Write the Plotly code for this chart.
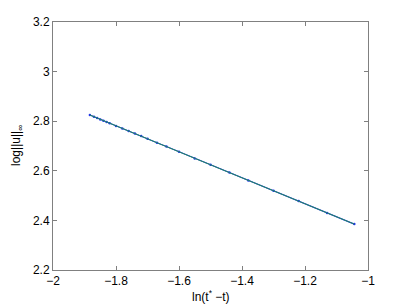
import plotly.graph_objects as go

# data points (blue)
x_data = [-1.883, -1.87, -1.86, -1.85, -1.84, -1.83, -1.82, -1.80, -1.78, -1.76,
          -1.74, -1.72, -1.70, -1.67, -1.64, -1.60, -1.55, -1.50, -1.44, -1.38,
          -1.30, -1.22, -1.13, -1.0435]
y_data = [2.825, 2.818, 2.813, 2.807, 2.802, 2.797, 2.792, 2.781, 2.771, 2.760,
          2.750, 2.740, 2.729, 2.713, 2.698, 2.677, 2.650, 2.624, 2.593, 2.561,
          2.520, 2.478, 2.430, 2.385]

# fitted line (green)
x_fit = [-1.883, -1.0435]
y_fit = [2.825, 2.385]

x_ticks = [-2, -1.8, -1.6, -1.4, -1.2, -1]
x_ticklabels = ["\u22122", "\u22121.8", "\u22121.6", "\u22121.4", "\u22121.2", "\u22121"]
y_ticks = [2.2, 2.4, 2.6, 2.8, 3, 3.2]
y_ticklabels = ["2.2", "2.4", "2.6", "2.8", "3", "3.2"]

FONT = "Liberation Sans, Arial"

fig = go.Figure()
fig.add_trace(go.Scatter(x=x_data, y=y_data, mode="lines+markers",
                         line=dict(color="#2233ee", width=1.2),
                         marker=dict(color="#2233ee", size=2.5, symbol="circle")))
fig.add_trace(go.Scatter(x=x_fit, y=y_fit, mode="lines",
                         line=dict(color="#228b5a", width=1)))

axis_common = dict(showgrid=False, zeroline=False, showline=True, mirror="ticks",
                   linecolor="#808080", linewidth=1, ticks="inside", ticklen=4,
                   tickcolor="#808080", automargin=False,
                   tickfont=dict(family=FONT, size=12, color="black"))

fig.update_xaxes(range=[-2, -1], tickvals=x_ticks, ticktext=x_ticklabels, **axis_common)
fig.update_yaxes(range=[2.2, 3.2], tickvals=y_ticks, ticktext=y_ticklabels, **axis_common)

fig.add_annotation(text="ln(t<sup>*</sup> \u2212t)", xref="paper", yref="paper",
                   x=0.5, y=0, yshift=-26, xanchor="center", yanchor="middle",
                   showarrow=False, font=dict(family=FONT, size=12, color="black"))
fig.add_annotation(text="log||u||<sub>\u221e</sub>", xref="paper", yref="paper",
                   x=0, y=0.5, xshift=-36, xanchor="center", yanchor="middle",
                   textangle=-90, showarrow=False,
                   font=dict(family=FONT, size=12, color="black"))

# page body has an 8px margin, so the figure is shrunk to fit the window
fig.update_layout(width=399, height=297, showlegend=False,
                  plot_bgcolor="white", paper_bgcolor="white",
                  margin=dict(l=45, r=39, t=14, b=35))

fig.write_html("out.html")
